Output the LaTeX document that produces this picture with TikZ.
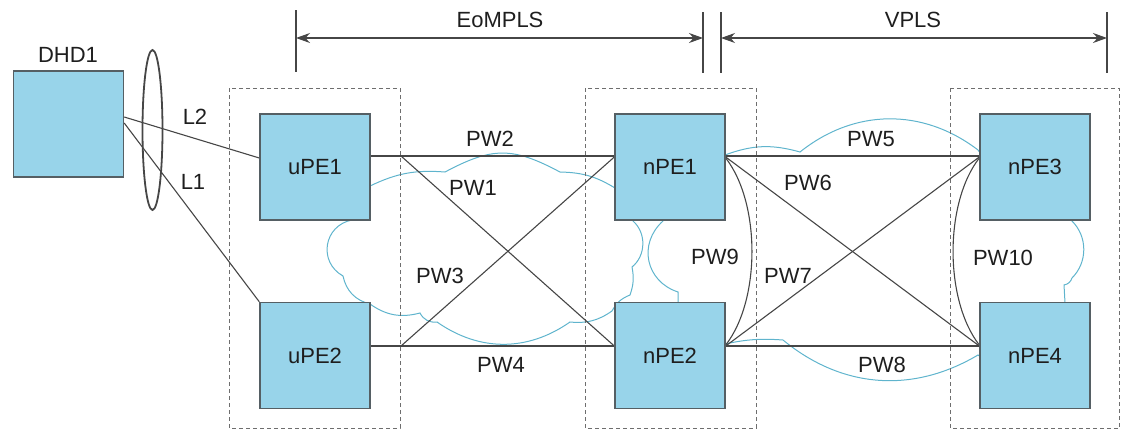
\documentclass[tikz,border=0pt]{standalone}
\usepackage{fontspec}
\setmainfont{Liberation Sans}
\usetikzlibrary{arrows.meta,shapes.geometric}
\definecolor{boxfill}{RGB}{152,212,234}
\definecolor{boxline}{RGB}{85,95,100}
\definecolor{cloudc}{RGB}{95,180,205}
\definecolor{linec}{RGB}{70,70,70}
\definecolor{dashc}{RGB}{110,110,110}
\definecolor{txt}{RGB}{30,30,30}
\begin{document}
\begin{tikzpicture}[x=1pt,y=-1pt,
  pe/.style={draw=boxline, line width=1.4pt, fill=boxfill, minimum width=110pt, minimum height=106pt, inner sep=0pt, font=\fontsize{22}{26}\selectfont, text=txt},
  lbl/.style={font=\fontsize{22}{26}\selectfont, text=txt, inner sep=0pt},
  pw/.style={draw=linec, line width=1.1pt},
  cloudline/.style={draw=cloudc, line width=1pt},
  group/.style={draw=dashc, line width=1pt, dash pattern=on 4pt off 3pt},
  tick/.style={draw=linec, line width=1.1pt},
  dimarrow/.style={draw=linec, line width=1.1pt, {Stealth[length=14pt,width=10pt]}-{Stealth[length=14pt,width=10pt]}}
]
\useasboundingbox (0,0) rectangle (1121,431);

% clouds
\draw[cloudline] (355,200) -- (370,186) to[bend left=15] (445,172) to[bend left=28, looseness=1.2] (560,172) to[bend left=15] (615,188) -- (640,205) -- (633,221) to[bend left=50] (632,267) to[bend left=15] (630,295) to[bend right=20] (612,311) to[bend left=20] (570,322) to[bend left=35] (437,322) to[bend left=35] (420,313) to[bend left=25] (370,304) to[bend left=32] (343,276) to[bend left=70, looseness=1.3] (352,220) -- cycle;
\draw[cloudline] (700,150) -- (725,155) to[bend left=18] (800,152) to[bend left=38] (978,150) -- (1000,180) -- (1072,221) to[bend left=45] (1072,278) to[bend left=30] (1064,285) -- (1065,303) -- (1000,370) -- (978,355) to[bend left=35] (783,340) to[bend right=8] (725,344) -- (700,330) -- (678,303) -- (678,292) to[bend left=60, looseness=1.2] (663,221) -- (690,180) -- cycle;

% dashed groups
\draw[group] (229,88) rectangle (400,428);
\draw[group] (585,88) rectangle (756,428);
\draw[group] (950,88) rectangle (1119.5,428);

% dimension lines
\coordinate (t1a) at (296,10); \coordinate (t1b) at (296,72);
\coordinate (t2a) at (703,12); \coordinate (t2b) at (703,73);
\coordinate (t3a) at (721,12); \coordinate (t3b) at (721,73);
\coordinate (t4a) at (1107,12); \coordinate (t4b) at (1107,73);
\draw[tick] (t1a) -- (t1b);
\draw[tick] (t2a) -- (t2b);
\draw[tick] (t3a) -- (t3b);
\draw[tick] (t4a) -- (t4b);
\coordinate (e1) at (296,38); \coordinate (e2) at (703,38);
\coordinate (v1) at (721,38); \coordinate (v2) at (1107,38);
\draw[dimarrow] (e1) -- (e2);
\draw[dimarrow] (v1) -- (v2);
\node[lbl] (eomp) at (500,20) {EoMPLS};
\node[lbl] (vpls) at (913,20) {VPLS};

% boxes (placed first as nodes, drawn later on top)
\node[pe] (dhd) at (68.5,124) {};
\node[pe] (uPE1) at (315,167) {uPE1};
\node[pe] (uPE2) at (315,355.5) {uPE2};
\node[pe] (nPE1) at (670,167) {nPE1};
\node[pe] (nPE2) at (670,355.5) {nPE2};
\node[pe] (nPE3) at (1035,167) {nPE3};
\node[pe] (nPE4) at (1035,355.5) {nPE4};

% connectors
\coordinate (x1) at (401,156);
\coordinate (x2) at (401,346);
\draw[pw] ([yshift=7pt]dhd.east) -- ([yshift=9pt]uPE1.west);
\draw[pw] ([yshift=1pt]dhd.east) -- (uPE2.north west);
\draw[pw] ([yshift=11pt]uPE1.east) -- ([yshift=11pt]nPE1.west);
\draw[pw] ([yshift=9.5pt]uPE2.east) -- ([yshift=9.5pt]nPE2.west);
\draw[pw] (x1) -- ([yshift=9.5pt]nPE2.west);
\draw[pw] (x2) -- ([yshift=10pt]nPE1.west);
\draw[pw] ([yshift=11pt]nPE1.east) -- ([yshift=11pt]nPE3.west);
\draw[pw] ([yshift=10pt]nPE1.east) -- ([yshift=9.5pt]nPE4.west);
\draw[pw] ([yshift=9.5pt]nPE2.east) -- ([yshift=10pt]nPE3.west);
\draw[pw] ([yshift=9.5pt]nPE2.east) -- ([yshift=9.5pt]nPE4.west);
\draw[pw] ([yshift=9pt]nPE1.east) .. controls +(35,45) and +(35,-45) .. ([yshift=10.5pt]nPE2.east);
\draw[pw] ([yshift=9pt]nPE3.west) .. controls +(-35,45) and +(-35,-45) .. ([yshift=10.5pt]nPE4.west);

% redraw boxes on top
\node[pe] at (dhd) {};
\node[pe] at (uPE1) {uPE1};
\node[pe] at (uPE2) {uPE2};
\node[pe] at (nPE1) {nPE1};
\node[pe] at (nPE2) {nPE2};
\node[pe] at (nPE3) {nPE3};
\node[pe] at (nPE4) {nPE4};

% bundle ellipse
\node[ellipse, draw=linec, line width=1.8pt, minimum width=20pt, minimum height=160pt, inner sep=0pt] (bundle) at (152.5,130) {};

% labels
\node[lbl] (ldhd) at (68,55) {DHD1};
\node[lbl] (l2) at (195,117) {L2};
\node[lbl] (l1) at (193,182) {L1};
\node[lbl] (pw2) at (490,139) {PW2};
\node[lbl] (pw1) at (473,188) {PW1};
\node[lbl] (pw3) at (440,276) {PW3};
\node[lbl] (pw4) at (501,365) {PW4};
\node[lbl] (pw9) at (715,257) {PW9};
\node[lbl] (pw5) at (871,139) {PW5};
\node[lbl] (pw6) at (808,183) {PW6};
\node[lbl] (pw7) at (788,276) {PW7};
\node[lbl] (pw8) at (882,365) {PW8};
\node[lbl] (pw10) at (1003,258) {PW10};
\end{tikzpicture}
\end{document}
